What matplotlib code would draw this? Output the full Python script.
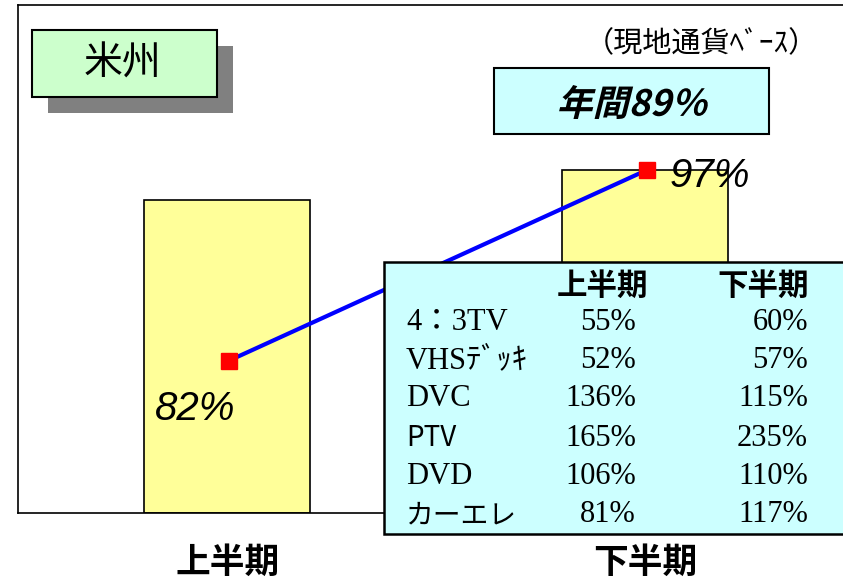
import matplotlib
matplotlib.use("Agg")
import matplotlib.pyplot as plt
from matplotlib.patches import Rectangle, PathPatch
from matplotlib.textpath import TextPath
from matplotlib.font_manager import FontProperties
from matplotlib.transforms import Affine2D

plt.rcParams['font.family'] = ['Noto Sans CJK JP', 'DejaVu Sans']

## Daten
periods = ['上半期', '下半期']
bar_vals = [61.6, 67.5]            # Balken (relative Höhe)
ratio_vals = [82, 97]              # Vorjahresvergleich in %
ratio_labels = ['82%', '97%']
year_label = '年間89％'
region = '米州'
note = '（現地通貨ﾍﾞｰｽ）'

items = ['4：3TV', 'VHSﾃﾞｯｷ', 'DVC', 'PTV', 'DVD', 'カーエレ']
first_half = ['55%', '52%', '136%', '165%', '106%', '81%']
second_half = ['60%', '57%', '115%', '235%', '110%', '117%']
sans_items = ['PTV', 'カーエレ']

W, H = 843, 582
fig = plt.figure(figsize=(W / 100, H / 100), dpi=100)

def fx(x):
    return x / W

def fy(y):
    return 1 - y / H

## Achsen
ax = fig.add_axes([fx(18), fy(513), fx(843 - 18), (513 - 5) / H])
ax.bar([0, 1], bar_vals, width=0.398, color='#FFFF99', edgecolor='black', linewidth=1.2)
ax.set_xlim(-0.5006, 1.475)
ax.set_ylim(0, 100)
ax.set_xticks([])
ax.set_yticks([])
ax.spines['right'].set_visible(False)
for s in ['left', 'top', 'bottom']:
    ax.spines[s].set_linewidth(1.2)

ax2 = ax.twinx()
ax2.set_ylim(70, 110)
ax2.plot([0.005, 1.005], ratio_vals, color='#0000FF', lw=3, marker='s', ms=12,
         mfc='#FF0000', mec='#FF0000', zorder=5)
ax2.set_yticks([])
for s in ax2.spines.values():
    s.set_visible(False)

# Prozentwerte
ax2.text(0.02, ratio_vals[0] - 3.85, ratio_labels[0], fontsize=29, style='italic',
         family='Liberation Sans', ha='right', va='center')
ax2.text(1.06, ratio_vals[1] - 0.45, ratio_labels[1], fontsize=29, style='italic',
         family='Liberation Sans', ha='left', va='center')

## Kategorien unten
for xp, lab in zip([228, 645], periods):
    fig.text(fx(xp), fy(562), lab, fontsize=25, weight='bold', ha='center', va='center')

## Region-Box mit Schatten
fig.add_artist(Rectangle((fx(48), fy(113)), fx(185), (113 - 46) / H, transform=fig.transFigure,
                         facecolor='#808080', edgecolor='none'))
fig.add_artist(Rectangle((fx(32), fy(97)), fx(185), (97 - 30) / H, transform=fig.transFigure,
                         facecolor='#CCFFCC', edgecolor='black', lw=1.5))
fig.text(fx(123), fy(64), region, fontsize=28, ha='center', va='center')

fig.text(fx(701), fy(44), note, fontsize=21, ha='center', va='center')

## Jahres-Box
fig.add_artist(Rectangle((fx(494), fy(134)), fx(275), (134 - 68) / H, transform=fig.transFigure,
                         facecolor='#CCFFFF', edgecolor='black', lw=1.5))
fp = FontProperties(family='Noto Sans CJK JP', weight='bold')
tp = TextPath((0, 0), year_label, size=36, prop=fp)
bb = tp.get_extents()
tr = (Affine2D().translate(-bb.x0 - bb.width / 2, -bb.y0 - bb.height / 2)
      .skew_deg(14, 0).translate(635, H - 102))
fig.add_artist(PathPatch(tp, transform=tr, facecolor='black', edgecolor='none'))

## Tabelle
fig.add_artist(Rectangle((fx(384), fy(534)), fx(470), (534 - 262) / H, transform=fig.transFigure,
                         facecolor='#CCFFFF', edgecolor='black', lw=1.8, zorder=10))
fig.text(fx(602), fy(286), periods[0], fontsize=22, weight='bold', ha='center', va='center', zorder=11)
fig.text(fx(763), fy(286), periods[1], fontsize=22, weight='bold', ha='center', va='center', zorder=11)
serif = ['Liberation Serif', 'Noto Sans CJK JP']
row_y = [322, 361, 399, 438, 476, 515]
for yy, it, a, b in zip(row_y, items, first_half, second_half):
    if it in sans_items:
        fig.text(fx(406), fy(yy), it, fontsize=20, ha='left', va='center', zorder=11)
    else:
        fig.text(fx(406), fy(yy), it, fontsize=22, family=serif, ha='left', va='center', zorder=11)
    fig.text(fx(636), fy(yy), a, fontsize=22, family=serif, ha='right', va='center', zorder=11)
    fig.text(fx(808), fy(yy), b, fontsize=22, family=serif, ha='right', va='center', zorder=11)

fig.savefig('out.png', dpi=100)
